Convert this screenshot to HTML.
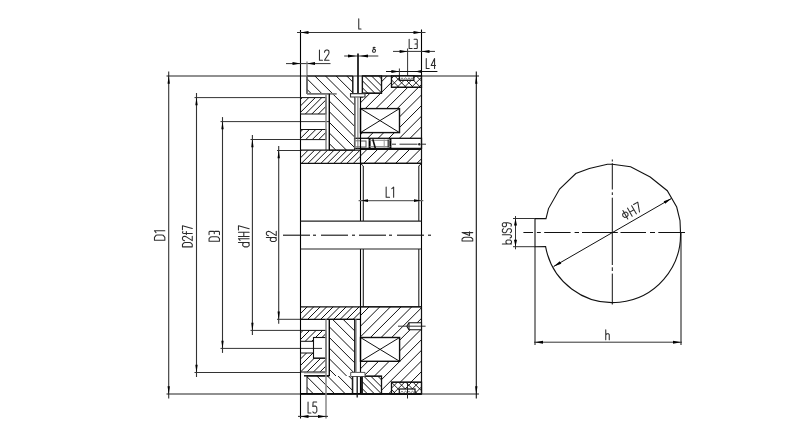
<!DOCTYPE html>
<html><head><meta charset="utf-8"><style>html,body{margin:0;padding:0;background:#fff;overflow:hidden;}svg{display:block;}text{font-family:"Liberation Sans",sans-serif;}</style></head>
<body><svg width="801" height="440" viewBox="0 0 801 440"><defs><clipPath id="c1"><polygon points="300.5,97.6 326,97.6 326,114 300.5,114"/></clipPath><clipPath id="c2"><polygon points="300.5,129.5 326,129.5 326,139.6 300.5,139.6"/></clipPath><clipPath id="c3"><polygon points="300.5,150.2 360.5,150.2 360.5,163.3 300.5,163.3"/></clipPath><clipPath id="c4"><polygon points="307,76 352.8,76 352.8,93.7 354.6,93.7 354.6,150.2 329.3,150.2 329.3,93.7 307,93.7"/></clipPath><clipPath id="c5"><polygon points="381.5,76 391.5,76 391.5,87.3 421.5,87.3 421.5,163.3 360.5,163.3 360.5,97.3 362.4,97.3 362.4,93.2 381.5,93.2"/></clipPath><clipPath id="c6"><polygon points="362.4,76 381.5,76 381.5,93.2 362.4,93.2"/></clipPath><clipPath id="c7"><polygon points="391.5,76 421.5,76 421.5,87.3 391.5,87.3"/></clipPath><clipPath id="c8"><polygon points="391.5,76 421.5,76 421.5,87.3 391.5,87.3"/></clipPath><clipPath id="c9"><polygon points="300.5,306.8 360.5,306.8 360.5,319.3 300.5,319.3"/></clipPath><clipPath id="c10"><polygon points="300.5,330.4 326,330.4 326,337.5 313.5,337.5 313.5,341.3 300.5,341.3"/></clipPath><clipPath id="c11"><polygon points="300.5,353 313.5,353 313.5,358.2 326,358.2 326,372 300.5,372"/></clipPath><clipPath id="c12"><polygon points="329.3,319.3 354.6,319.3 354.6,376 329.3,376"/></clipPath><clipPath id="c13"><polygon points="352.3,376 352.3,393.8 307,393.8 307,376"/></clipPath><clipPath id="c14"><polygon points="360.5,306.8 421.5,306.8 421.5,393.8 360.5,393.8"/></clipPath><clipPath id="c15"><polygon points="362,376.2 381.5,376.2 381.5,393.8 362,393.8"/></clipPath><clipPath id="c16"><polygon points="391.5,382.2 421.5,382.2 421.5,393.8 391.5,393.8"/></clipPath><clipPath id="c17"><polygon points="391.5,382.2 421.5,382.2 421.5,393.8 391.5,393.8"/></clipPath></defs><rect width="801" height="440" fill="#fff"/><line x1="168.7" y1="71.5" x2="168.7" y2="398.5" stroke="#333" stroke-width="1.1"/><polygon points="168.70,75.20 169.85,83.70 167.55,83.70" fill="#000"/><polygon points="168.70,394.80 167.55,386.30 169.85,386.30" fill="#000"/><line x1="196.5" y1="93.1" x2="196.5" y2="377.0" stroke="#333" stroke-width="1.1"/><polygon points="196.50,96.80 197.65,105.30 195.35,105.30" fill="#000"/><polygon points="196.50,373.30 195.35,364.80 197.65,364.80" fill="#000"/><line x1="222.5" y1="117.1" x2="222.5" y2="352.9" stroke="#333" stroke-width="1.1"/><polygon points="222.50,120.80 223.65,129.30 221.35,129.30" fill="#000"/><polygon points="222.50,349.20 221.35,340.70 223.65,340.70" fill="#000"/><line x1="252.4" y1="135.0" x2="252.4" y2="334.9" stroke="#333" stroke-width="1.1"/><polygon points="252.40,138.70 253.55,147.20 251.25,147.20" fill="#000"/><polygon points="252.40,331.20 251.25,322.70 253.55,322.70" fill="#000"/><line x1="278.7" y1="146.0" x2="278.7" y2="323.8" stroke="#333" stroke-width="1.1"/><polygon points="278.70,149.70 279.85,158.20 277.55,158.20" fill="#000"/><polygon points="278.70,320.10 277.55,311.60 279.85,311.60" fill="#000"/><line x1="166.5" y1="76" x2="479" y2="76" stroke="#222" stroke-width="1.1"/><line x1="166.5" y1="394" x2="479" y2="394" stroke="#222" stroke-width="1.2"/><line x1="300.5" y1="393.8" x2="421.5" y2="393.8" stroke="#000" stroke-width="1.8"/><line x1="194.5" y1="97.6" x2="300" y2="97.6" stroke="#333" stroke-width="1"/><line x1="194.5" y1="372.5" x2="300" y2="372.5" stroke="#333" stroke-width="1"/><line x1="220.5" y1="121.6" x2="329.3" y2="121.6" stroke="#333" stroke-width="1"/><line x1="220.5" y1="348.4" x2="322" y2="348.4" stroke="#333" stroke-width="1"/><line x1="250.5" y1="139.5" x2="300" y2="139.5" stroke="#333" stroke-width="1"/><line x1="250.5" y1="330.4" x2="300" y2="330.4" stroke="#333" stroke-width="1"/><line x1="277" y1="150.5" x2="300" y2="150.5" stroke="#333" stroke-width="1"/><line x1="277" y1="319.3" x2="300" y2="319.3" stroke="#333" stroke-width="1"/><path d="M154.45,240.25 L164.85,240.25 L164.85,237.32 L163.29,235.32 L161.73,234.97 L157.57,234.97 L156.01,235.32 L154.45,237.32 L154.45,240.25M156.01,232.63 L154.45,230.75 L164.85,230.75" fill="none" stroke="#2b2b2b" stroke-width="1.05" stroke-linecap="round" stroke-linejoin="round"/><path d="M182.45,246.85 L192.25,246.85 L192.25,244.46 L190.78,242.84 L189.31,242.55 L185.39,242.55 L183.92,242.84 L182.45,244.46 L182.45,246.85M184.61,240.64 L183.23,240.17 L182.45,238.92 L182.45,237.78 L183.23,236.63 L184.61,236.35 L185.98,236.63 L192.25,240.64 L192.25,236.35M182.94,231.57 L182.45,232.33 L182.94,233.29 L183.92,233.48 L192.25,233.48M186.37,234.44 L186.37,231.57M182.45,229.66 L182.45,225.65 L192.25,228.51" fill="none" stroke="#2b2b2b" stroke-width="1.05" stroke-linecap="round" stroke-linejoin="round"/><path d="M209.05,241.25 L219.45,241.25 L219.45,238.70 L217.89,236.96 L216.33,236.66 L212.17,236.66 L210.61,236.96 L209.05,238.70 L209.05,241.25M209.05,234.62 L209.05,231.86 L209.67,231.35 L213.63,231.35 L214.25,231.86 L214.87,231.35 L218.83,231.35 L219.45,231.86 L219.45,234.62M214.25,233.60 L214.25,231.86" fill="none" stroke="#2b2b2b" stroke-width="1.05" stroke-linecap="round" stroke-linejoin="round"/><path d="M238.45,242.44 L249.15,242.44M244.34,242.44 L242.73,243.70 L242.73,245.59 L244.34,246.85 L247.54,246.85 L249.15,245.59 L249.15,243.70 L247.54,242.44M240.06,240.34 L238.45,238.66 L249.15,238.66M238.45,236.56 L249.15,236.56M238.45,232.16 L249.15,232.16M243.80,236.56 L243.80,232.16M238.45,230.06 L238.45,225.65 L249.15,228.80" fill="none" stroke="#2b2b2b" stroke-width="1.05" stroke-linecap="round" stroke-linejoin="round"/><path d="M266.35,237.55 L276.25,237.55M271.80,237.55 L270.31,238.69 L270.31,240.41 L271.80,241.55 L274.76,241.55 L276.25,240.41 L276.25,238.69 L274.76,237.55M268.53,235.64 L267.14,235.16 L266.35,233.92 L266.35,232.78 L267.14,231.64 L268.53,231.35 L269.91,231.64 L276.25,235.64 L276.25,231.35" fill="none" stroke="#2b2b2b" stroke-width="1.05" stroke-linecap="round" stroke-linejoin="round"/><line x1="300.5" y1="30" x2="300.5" y2="418.5" stroke="#000" stroke-width="1.1"/><line x1="421.5" y1="29.5" x2="421.5" y2="394" stroke="#000" stroke-width="1.1"/><line x1="297" y1="32.5" x2="425.5" y2="32.5" stroke="#333" stroke-width="1.2"/><polygon points="300.50,32.50 308.50,31.00 308.50,34.00" fill="#000"/><polygon points="421.50,32.50 413.50,34.00 413.50,31.00" fill="#000"/><path d="M358.75,18.75 L358.75,29.05 L361.05,29.05" fill="none" stroke="#2b2b2b" stroke-width="1.05" stroke-linecap="round" stroke-linejoin="round"/><line x1="286" y1="63.6" x2="330.5" y2="63.6" stroke="#333" stroke-width="1"/><polygon points="300.50,63.60 292.50,65.10 292.50,62.10" fill="#000"/><polygon points="307.00,63.60 315.00,62.10 315.00,65.10" fill="#000"/><line x1="307" y1="61.5" x2="307" y2="94" stroke="#777" stroke-width="1.2"/><path d="M319.45,49.95 L319.45,60.25 L322.48,60.25M324.50,52.22 L325.01,50.77 L326.32,49.95 L327.53,49.95 L328.75,50.77 L329.05,52.22 L328.75,53.66 L324.50,60.25 L329.05,60.25" fill="none" stroke="#2b2b2b" stroke-width="1.05" stroke-linecap="round" stroke-linejoin="round"/><line x1="344.2" y1="56" x2="378.3" y2="56" stroke="#333" stroke-width="1"/><polygon points="356.00,56.00 348.00,57.50 348.00,54.50" fill="#000"/><polygon points="360.00,56.00 368.00,54.50 368.00,57.50" fill="#000"/><line x1="358" y1="53.5" x2="358" y2="94" stroke="#111" stroke-width="1.7"/><path d="M375.07,47.51 L373.97,47.25 L373.14,47.66 L373.28,48.37 L375.07,49.39 L375.55,50.62 L375.07,51.94 L373.97,52.35 L372.93,51.94 L372.45,50.82 L373.00,49.80 L374.65,49.29" fill="none" stroke="#2b2b2b" stroke-width="1.05" stroke-linecap="round" stroke-linejoin="round"/><line x1="393" y1="51.4" x2="435" y2="51.4" stroke="#333" stroke-width="1"/><polygon points="407.60,51.40 399.60,52.90 399.60,49.90" fill="#000"/><polygon points="421.50,51.40 429.50,49.90 429.50,52.90" fill="#000"/><line x1="407.6" y1="48.5" x2="407.6" y2="76" stroke="#333" stroke-width="1"/><path d="M409.15,39.25 L409.15,48.55 L412.11,48.55M414.09,39.25 L416.76,39.25 L417.25,39.81 L417.25,43.34 L416.76,43.90 L417.25,44.46 L417.25,47.99 L416.76,48.55 L414.09,48.55M415.08,43.90 L416.76,43.90" fill="none" stroke="#2b2b2b" stroke-width="1.05" stroke-linecap="round" stroke-linejoin="round"/><line x1="386" y1="71.5" x2="437.4" y2="71.5" stroke="#111" stroke-width="1.2"/><polygon points="399.40,71.50 391.40,73.00 391.40,70.00" fill="#000"/><polygon points="415.00,71.50 421.50,70.10 421.50,72.90" fill="#000"/><line x1="399.4" y1="68.5" x2="399.4" y2="80" stroke="#333" stroke-width="1"/><path d="M426.25,58.55 L426.25,68.45 L429.19,68.45M434.57,68.45 L434.57,58.55 L431.14,65.48 L435.55,65.48" fill="none" stroke="#2b2b2b" stroke-width="1.05" stroke-linecap="round" stroke-linejoin="round"/><g clip-path="url(#c1)" stroke="#111" stroke-width="1.0"><line x1="296.80" y1="96.6" x2="278.40" y2="115"/><line x1="303.29" y1="96.6" x2="284.89" y2="115"/><line x1="309.78" y1="96.6" x2="291.38" y2="115"/><line x1="316.27" y1="96.6" x2="297.87" y2="115"/><line x1="322.76" y1="96.6" x2="304.36" y2="115"/><line x1="329.25" y1="96.6" x2="310.85" y2="115"/><line x1="335.74" y1="96.6" x2="317.34" y2="115"/><line x1="342.23" y1="96.6" x2="323.83" y2="115"/></g><g clip-path="url(#c2)" stroke="#111" stroke-width="1.0"><line x1="297.35" y1="128.5" x2="285.25" y2="140.6"/><line x1="303.84" y1="128.5" x2="291.74" y2="140.6"/><line x1="310.33" y1="128.5" x2="298.23" y2="140.6"/><line x1="316.82" y1="128.5" x2="304.72" y2="140.6"/><line x1="323.31" y1="128.5" x2="311.21" y2="140.6"/><line x1="329.80" y1="128.5" x2="317.70" y2="140.6"/><line x1="336.29" y1="128.5" x2="324.19" y2="140.6"/></g><g clip-path="url(#c3)" stroke="#111" stroke-width="1.0"><line x1="296.12" y1="149.2" x2="281.02" y2="164.3"/><line x1="302.61" y1="149.2" x2="287.51" y2="164.3"/><line x1="309.10" y1="149.2" x2="294.00" y2="164.3"/><line x1="315.59" y1="149.2" x2="300.49" y2="164.3"/><line x1="322.08" y1="149.2" x2="306.98" y2="164.3"/><line x1="328.57" y1="149.2" x2="313.47" y2="164.3"/><line x1="335.06" y1="149.2" x2="319.96" y2="164.3"/><line x1="341.55" y1="149.2" x2="326.45" y2="164.3"/><line x1="348.04" y1="149.2" x2="332.94" y2="164.3"/><line x1="354.53" y1="149.2" x2="339.43" y2="164.3"/><line x1="361.02" y1="149.2" x2="345.92" y2="164.3"/><line x1="367.51" y1="149.2" x2="352.41" y2="164.3"/><line x1="374.00" y1="149.2" x2="358.90" y2="164.3"/></g><rect x="300.5" y="97.6" width="25.5" height="16.4" fill="none" stroke="#111" stroke-width="1"/><rect x="300.5" y="129.5" width="25.5" height="10.1" fill="none" stroke="#111" stroke-width="1"/><g clip-path="url(#c4)" stroke="#111" stroke-width="1.0"><line x1="228.76" y1="75" x2="304.96" y2="151.2"/><line x1="239.40" y1="75" x2="315.60" y2="151.2"/><line x1="250.04" y1="75" x2="326.24" y2="151.2"/><line x1="260.68" y1="75" x2="336.88" y2="151.2"/><line x1="271.32" y1="75" x2="347.52" y2="151.2"/><line x1="281.96" y1="75" x2="358.16" y2="151.2"/><line x1="292.60" y1="75" x2="368.80" y2="151.2"/><line x1="303.24" y1="75" x2="379.44" y2="151.2"/><line x1="313.88" y1="75" x2="390.08" y2="151.2"/><line x1="324.52" y1="75" x2="400.72" y2="151.2"/><line x1="335.16" y1="75" x2="411.36" y2="151.2"/><line x1="345.80" y1="75" x2="422.00" y2="151.2"/></g><polygon points="307,76 352.8,76 352.8,93.7 354.6,93.7 354.6,150.2 329.3,150.2 329.3,93.7 307,93.7" fill="none" stroke="#111" stroke-width="1"/><line x1="307" y1="93.9" x2="336.7" y2="93.9" stroke="#777" stroke-width="1.6"/><line x1="307" y1="76" x2="307" y2="93.7" stroke="#777" stroke-width="1.2"/><line x1="326" y1="93.7" x2="326" y2="150.2" stroke="#888" stroke-width="1.5"/><line x1="329.3" y1="93.7" x2="329.3" y2="150.2" stroke="#000" stroke-width="1.1"/><g clip-path="url(#c5)" stroke="#111" stroke-width="1.0"><line x1="356.30" y1="75" x2="267.00" y2="164.3"/><line x1="366.94" y1="75" x2="277.64" y2="164.3"/><line x1="377.58" y1="75" x2="288.28" y2="164.3"/><line x1="388.22" y1="75" x2="298.92" y2="164.3"/><line x1="398.86" y1="75" x2="309.56" y2="164.3"/><line x1="409.50" y1="75" x2="320.20" y2="164.3"/><line x1="420.14" y1="75" x2="330.84" y2="164.3"/><line x1="430.78" y1="75" x2="341.48" y2="164.3"/><line x1="441.42" y1="75" x2="352.12" y2="164.3"/><line x1="452.06" y1="75" x2="362.76" y2="164.3"/><line x1="462.70" y1="75" x2="373.40" y2="164.3"/><line x1="473.34" y1="75" x2="384.04" y2="164.3"/><line x1="483.98" y1="75" x2="394.68" y2="164.3"/><line x1="494.62" y1="75" x2="405.32" y2="164.3"/><line x1="505.26" y1="75" x2="415.96" y2="164.3"/></g><rect x="360.5" y="108.6" width="39.0" height="24.0" fill="white" stroke="#111" stroke-width="1.4"/><line x1="360.5" y1="108.6" x2="399.5" y2="132.6" stroke="#111" stroke-width="1"/><line x1="360.5" y1="132.6" x2="399.5" y2="108.6" stroke="#111" stroke-width="1"/><rect x="354.6" y="138.3" width="66.9" height="10.1" fill="white" stroke="#111" stroke-width="1.3"/><line x1="369.6" y1="138.3" x2="369.6" y2="148.4" stroke="#000" stroke-width="2"/><line x1="390.4" y1="138.3" x2="390.4" y2="148.4" stroke="#000" stroke-width="2"/><line x1="369.6" y1="140.3" x2="390.4" y2="140.3" stroke="#888" stroke-width="1"/><line x1="369.6" y1="146.6" x2="390.4" y2="146.6" stroke="#888" stroke-width="1"/><line x1="372.8" y1="139.3" x2="375.3" y2="148.2" stroke="#111" stroke-width="1.6"/><line x1="384.2" y1="139.5" x2="384.2" y2="147.5" stroke="#999" stroke-width="1"/><line x1="388.2" y1="139.5" x2="388.2" y2="147.5" stroke="#333" stroke-width="1.3"/><rect x="360.5" y="141" width="5.5" height="6" fill="none" stroke="#555" stroke-width="1"/><line x1="354.6" y1="140.8" x2="360.5" y2="140.8" stroke="#777" stroke-width="1"/><line x1="354.6" y1="146.8" x2="360.5" y2="146.8" stroke="#777" stroke-width="1"/><line x1="355" y1="138.3" x2="355" y2="148.4" stroke="#888" stroke-width="1.3"/><line x1="357.9" y1="138.3" x2="357.9" y2="148.4" stroke="#777" stroke-width="1"/><line x1="392" y1="144.2" x2="396" y2="144.2" stroke="#333" stroke-width="1"/><line x1="399.5" y1="144.2" x2="417.5" y2="144.2" stroke="#333" stroke-width="1"/><line x1="421.5" y1="144.2" x2="426" y2="144.2" stroke="#333" stroke-width="1"/><circle cx="419.3" cy="144.2" r="1.2" fill="#222"/><line x1="300.5" y1="150.2" x2="360.5" y2="150.2" stroke="#111" stroke-width="1.3"/><line x1="360.5" y1="149.4" x2="421.5" y2="149.4" stroke="#111" stroke-width="1.1"/><line x1="300.5" y1="163.3" x2="421.5" y2="163.3" stroke="#111" stroke-width="1.3"/><polygon points="381.5,76 391.5,76 391.5,87.3 421.5,87.3 421.5,163.3 360.5,163.3 360.5,97.3 362.4,97.3 362.4,93.2 381.5,93.2" fill="none" stroke="#111" stroke-width="1.1"/><rect x="362.4" y="76" width="19.1" height="17.2" fill="white" stroke="#111" stroke-width="1"/><g clip-path="url(#c6)" stroke="#111" stroke-width="1.0"><line x1="342.60" y1="75" x2="361.80" y2="94.2"/><line x1="349.60" y1="75" x2="368.80" y2="94.2"/><line x1="356.60" y1="75" x2="375.80" y2="94.2"/><line x1="363.60" y1="75" x2="382.80" y2="94.2"/><line x1="370.60" y1="75" x2="389.80" y2="94.2"/><line x1="377.60" y1="75" x2="396.80" y2="94.2"/></g><rect x="362.4" y="76" width="19.1" height="17.2" fill="none" stroke="#111" stroke-width="1.3"/><rect x="391.5" y="76" width="30.0" height="11.3" fill="white" stroke="#111" stroke-width="1"/><g clip-path="url(#c7)" stroke="#111" stroke-width="0.9"><line x1="387.80" y1="75" x2="374.50" y2="88.3"/><line x1="395.00" y1="75" x2="381.70" y2="88.3"/><line x1="402.20" y1="75" x2="388.90" y2="88.3"/><line x1="409.40" y1="75" x2="396.10" y2="88.3"/><line x1="416.60" y1="75" x2="403.30" y2="88.3"/><line x1="423.80" y1="75" x2="410.50" y2="88.3"/><line x1="431.00" y1="75" x2="417.70" y2="88.3"/></g><g clip-path="url(#c8)" stroke="#111" stroke-width="0.9"><line x1="372.20" y1="75" x2="385.50" y2="88.3"/><line x1="379.40" y1="75" x2="392.70" y2="88.3"/><line x1="386.60" y1="75" x2="399.90" y2="88.3"/><line x1="393.80" y1="75" x2="407.10" y2="88.3"/><line x1="401.00" y1="75" x2="414.30" y2="88.3"/><line x1="408.20" y1="75" x2="421.50" y2="88.3"/><line x1="415.40" y1="75" x2="428.70" y2="88.3"/></g><rect x="391.5" y="76" width="30.0" height="11.3" fill="none" stroke="#111" stroke-width="1.3"/><rect x="399.4" y="76" width="14.4" height="4.3" fill="white" stroke="#111" stroke-width="1.3"/><path d="M400.5,79.2 Q402,76.5 403.5,79.2" fill="none" stroke="#666" stroke-width="0.9"/><path d="M404.0,79.2 Q405.5,76.5 407.0,79.2" fill="none" stroke="#666" stroke-width="0.9"/><path d="M407.5,79.2 Q409,76.5 410.5,79.2" fill="none" stroke="#666" stroke-width="0.9"/><path d="M410.5,79.2 Q412,76.5 413.5,79.2" fill="none" stroke="#666" stroke-width="0.9"/><line x1="352.8" y1="76" x2="352.8" y2="93.7" stroke="#111" stroke-width="1"/><line x1="362.5" y1="76" x2="362.5" y2="93.7" stroke="#111" stroke-width="1"/><polygon points="350.5,93.6 365,93.6 365,97 350.5,97" fill="white" stroke="#333" stroke-width="1.1"/><line x1="355" y1="97.4" x2="355" y2="138" stroke="#777" stroke-width="1.5"/><line x1="357.9" y1="97.4" x2="357.9" y2="138" stroke="#666" stroke-width="1"/><line x1="360.5" y1="97.3" x2="360.5" y2="163.3" stroke="#000" stroke-width="1.1"/><line x1="360.5" y1="163.3" x2="360.5" y2="221" stroke="#000" stroke-width="1.1"/><line x1="363.3" y1="166" x2="363.3" y2="221" stroke="#222" stroke-width="1.1"/><polyline points="360.5,163.3 363.3,166" fill="none" stroke="#111" stroke-width="1"/><line x1="418.8" y1="166" x2="418.8" y2="221" stroke="#222" stroke-width="1.1"/><polyline points="421.5,163.3 418.8,166" fill="none" stroke="#111" stroke-width="1"/><line x1="360.5" y1="249" x2="360.5" y2="306.8" stroke="#000" stroke-width="1.1"/><line x1="363.3" y1="249" x2="363.3" y2="306.8" stroke="#222" stroke-width="1.1"/><line x1="418.8" y1="249" x2="418.8" y2="306.8" stroke="#222" stroke-width="1.1"/><line x1="300.5" y1="221.2" x2="421.5" y2="221.2" stroke="#222" stroke-width="1.2"/><line x1="300.5" y1="249" x2="421.5" y2="249" stroke="#222" stroke-width="1.2"/><line x1="283" y1="235.2" x2="310" y2="235.2" stroke="#111" stroke-width="1.1"/><line x1="313" y1="235.2" x2="316" y2="235.2" stroke="#111" stroke-width="1.1"/><line x1="321" y1="235.2" x2="348" y2="235.2" stroke="#111" stroke-width="1.1"/><line x1="352" y1="235.2" x2="355" y2="235.2" stroke="#111" stroke-width="1.1"/><line x1="359" y1="235.2" x2="386" y2="235.2" stroke="#111" stroke-width="1.1"/><line x1="389" y1="235.2" x2="392" y2="235.2" stroke="#111" stroke-width="1.1"/><line x1="397" y1="235.2" x2="424" y2="235.2" stroke="#111" stroke-width="1.1"/><line x1="428" y1="235.2" x2="431" y2="235.2" stroke="#111" stroke-width="1.1"/><line x1="358.6" y1="200.6" x2="423.3" y2="200.6" stroke="#666" stroke-width="1.2"/><polygon points="361.00,200.60 368.00,199.20 368.00,202.00" fill="#000"/><polygon points="421.00,200.60 414.00,202.00 414.00,199.20" fill="#000"/><path d="M386.15,187.05 L386.15,197.25 L389.56,197.25M391.83,188.58 L393.65,187.05 L393.65,197.25" fill="none" stroke="#2b2b2b" stroke-width="1.05" stroke-linecap="round" stroke-linejoin="round"/><g clip-path="url(#c9)" stroke="#111" stroke-width="1.0"><line x1="295.28" y1="305.8" x2="280.78" y2="320.3"/><line x1="301.77" y1="305.8" x2="287.27" y2="320.3"/><line x1="308.26" y1="305.8" x2="293.76" y2="320.3"/><line x1="314.75" y1="305.8" x2="300.25" y2="320.3"/><line x1="321.24" y1="305.8" x2="306.74" y2="320.3"/><line x1="327.73" y1="305.8" x2="313.23" y2="320.3"/><line x1="334.22" y1="305.8" x2="319.72" y2="320.3"/><line x1="340.71" y1="305.8" x2="326.21" y2="320.3"/><line x1="347.20" y1="305.8" x2="332.70" y2="320.3"/><line x1="353.69" y1="305.8" x2="339.19" y2="320.3"/><line x1="360.18" y1="305.8" x2="345.68" y2="320.3"/><line x1="366.67" y1="305.8" x2="352.17" y2="320.3"/><line x1="373.16" y1="305.8" x2="358.66" y2="320.3"/></g><line x1="300.5" y1="306.8" x2="421.5" y2="306.8" stroke="#111" stroke-width="1.3"/><line x1="300.5" y1="319.3" x2="360.5" y2="319.3" stroke="#111" stroke-width="1.3"/><g clip-path="url(#c10)" stroke="#111" stroke-width="1.0"><line x1="297.64" y1="329.4" x2="284.74" y2="342.3"/><line x1="304.13" y1="329.4" x2="291.23" y2="342.3"/><line x1="310.62" y1="329.4" x2="297.72" y2="342.3"/><line x1="317.11" y1="329.4" x2="304.21" y2="342.3"/><line x1="323.60" y1="329.4" x2="310.70" y2="342.3"/><line x1="330.09" y1="329.4" x2="317.19" y2="342.3"/><line x1="336.58" y1="329.4" x2="323.68" y2="342.3"/></g><polygon points="300.5,330.4 326,330.4 326,337.5 313.5,337.5 313.5,341.3 300.5,341.3" fill="none" stroke="#111" stroke-width="1"/><g clip-path="url(#c11)" stroke="#111" stroke-width="1.0"><line x1="301.00" y1="352" x2="280.00" y2="373"/><line x1="307.49" y1="352" x2="286.49" y2="373"/><line x1="313.98" y1="352" x2="292.98" y2="373"/><line x1="320.47" y1="352" x2="299.47" y2="373"/><line x1="326.96" y1="352" x2="305.96" y2="373"/><line x1="333.45" y1="352" x2="312.45" y2="373"/><line x1="339.94" y1="352" x2="318.94" y2="373"/></g><polygon points="300.5,353 313.5,353 313.5,358.2 326,358.2 326,372 300.5,372" fill="none" stroke="#111" stroke-width="1"/><rect x="313.5" y="337.5" width="12.5" height="20.7" fill="none" stroke="#111" stroke-width="1.1"/><g clip-path="url(#c12)" stroke="#111" stroke-width="1.0"><line x1="267.60" y1="318.3" x2="326.30" y2="377"/><line x1="278.24" y1="318.3" x2="336.94" y2="377"/><line x1="288.88" y1="318.3" x2="347.58" y2="377"/><line x1="299.52" y1="318.3" x2="358.22" y2="377"/><line x1="310.16" y1="318.3" x2="368.86" y2="377"/><line x1="320.80" y1="318.3" x2="379.50" y2="377"/><line x1="331.44" y1="318.3" x2="390.14" y2="377"/><line x1="342.08" y1="318.3" x2="400.78" y2="377"/><line x1="352.72" y1="318.3" x2="411.42" y2="377"/></g><g clip-path="url(#c13)" stroke="#111" stroke-width="1.0"><line x1="283.94" y1="375" x2="303.74" y2="394.8"/><line x1="294.58" y1="375" x2="314.38" y2="394.8"/><line x1="305.22" y1="375" x2="325.02" y2="394.8"/><line x1="315.86" y1="375" x2="335.66" y2="394.8"/><line x1="326.50" y1="375" x2="346.30" y2="394.8"/><line x1="337.14" y1="375" x2="356.94" y2="394.8"/><line x1="347.78" y1="375" x2="367.58" y2="394.8"/></g><polygon points="329.3,319.3 354.6,319.3 354.6,376 352.3,376 352.3,393.8 307,393.8 307,376 329.3,376" fill="none" stroke="#111" stroke-width="1"/><line x1="304" y1="372.5" x2="325.4" y2="372.5" stroke="#777" stroke-width="1.6"/><line x1="304" y1="375.8" x2="329.3" y2="375.8" stroke="#111" stroke-width="1.5"/><line x1="326" y1="319.3" x2="326" y2="418.5" stroke="#888" stroke-width="1.5"/><line x1="329.3" y1="319.3" x2="329.3" y2="376" stroke="#000" stroke-width="1.1"/><g clip-path="url(#c14)" stroke="#111" stroke-width="1.0"><line x1="359.58" y1="305.8" x2="270.58" y2="394.8"/><line x1="370.22" y1="305.8" x2="281.22" y2="394.8"/><line x1="380.86" y1="305.8" x2="291.86" y2="394.8"/><line x1="391.50" y1="305.8" x2="302.50" y2="394.8"/><line x1="402.14" y1="305.8" x2="313.14" y2="394.8"/><line x1="412.78" y1="305.8" x2="323.78" y2="394.8"/><line x1="423.42" y1="305.8" x2="334.42" y2="394.8"/><line x1="434.06" y1="305.8" x2="345.06" y2="394.8"/><line x1="444.70" y1="305.8" x2="355.70" y2="394.8"/><line x1="455.34" y1="305.8" x2="366.34" y2="394.8"/><line x1="465.98" y1="305.8" x2="376.98" y2="394.8"/><line x1="476.62" y1="305.8" x2="387.62" y2="394.8"/><line x1="487.26" y1="305.8" x2="398.26" y2="394.8"/><line x1="497.90" y1="305.8" x2="408.90" y2="394.8"/><line x1="508.54" y1="305.8" x2="419.54" y2="394.8"/></g><rect x="360.5" y="337.5" width="39.1" height="23.8" fill="white" stroke="#111" stroke-width="1.4"/><line x1="360.5" y1="337.5" x2="399.6" y2="361.3" stroke="#111" stroke-width="1"/><line x1="360.5" y1="361.3" x2="399.6" y2="337.5" stroke="#111" stroke-width="1"/><polygon points="409,322.7 421.5,322.7 421.5,329.8 409,329.8 406.8,326.2" fill="white" stroke="#111" stroke-width="1.1"/><line x1="409" y1="322.7" x2="409" y2="329.8" stroke="#111" stroke-width="1"/><line x1="398" y1="326.2" x2="425.6" y2="326.2" stroke="#333" stroke-width="1"/><rect x="362" y="376.2" width="19.5" height="17.6" fill="white" stroke="#111" stroke-width="1"/><g clip-path="url(#c15)" stroke="#111" stroke-width="1.0"><line x1="341.80" y1="375.2" x2="361.40" y2="394.8"/><line x1="348.80" y1="375.2" x2="368.40" y2="394.8"/><line x1="355.80" y1="375.2" x2="375.40" y2="394.8"/><line x1="362.80" y1="375.2" x2="382.40" y2="394.8"/><line x1="369.80" y1="375.2" x2="389.40" y2="394.8"/><line x1="376.80" y1="375.2" x2="396.40" y2="394.8"/></g><rect x="362" y="376.2" width="19.5" height="17.6" fill="none" stroke="#111" stroke-width="1.3"/><rect x="391.5" y="382.2" width="30.0" height="11.6" fill="white" stroke="#111" stroke-width="1"/><g clip-path="url(#c16)" stroke="#111" stroke-width="0.9"><line x1="391.20" y1="381.2" x2="377.60" y2="394.8"/><line x1="398.40" y1="381.2" x2="384.80" y2="394.8"/><line x1="405.60" y1="381.2" x2="392.00" y2="394.8"/><line x1="412.80" y1="381.2" x2="399.20" y2="394.8"/><line x1="420.00" y1="381.2" x2="406.40" y2="394.8"/><line x1="427.20" y1="381.2" x2="413.60" y2="394.8"/></g><g clip-path="url(#c17)" stroke="#111" stroke-width="0.9"><line x1="376.00" y1="381.2" x2="389.60" y2="394.8"/><line x1="383.20" y1="381.2" x2="396.80" y2="394.8"/><line x1="390.40" y1="381.2" x2="404.00" y2="394.8"/><line x1="397.60" y1="381.2" x2="411.20" y2="394.8"/><line x1="404.80" y1="381.2" x2="418.40" y2="394.8"/><line x1="412.00" y1="381.2" x2="425.60" y2="394.8"/><line x1="419.20" y1="381.2" x2="432.80" y2="394.8"/></g><rect x="391.5" y="382.2" width="30.0" height="11.6" fill="none" stroke="#111" stroke-width="1.3"/><rect x="399.3" y="389" width="15.7" height="4.8" fill="white" stroke="#111" stroke-width="1.2"/><path d="M400.5,392.6 Q402,389.9 403.5,392.6" fill="none" stroke="#666" stroke-width="0.9"/><path d="M404.0,392.6 Q405.5,389.9 407.0,392.6" fill="none" stroke="#666" stroke-width="0.9"/><path d="M407.5,392.6 Q409,389.9 410.5,392.6" fill="none" stroke="#666" stroke-width="0.9"/><path d="M411.0,392.6 Q412.5,389.9 414.0,392.6" fill="none" stroke="#666" stroke-width="0.9"/><polygon points="360.5,306.8 421.5,306.8 421.5,393.8 360.5,393.8" fill="none" stroke="#111" stroke-width="1.1"/><line x1="360.5" y1="306.8" x2="360.5" y2="393.8" stroke="#000" stroke-width="1.1"/><polygon points="350.7,372.4 365,372.4 365,376.5 350.7,376.5" fill="white" stroke="#555" stroke-width="1"/><line x1="355.8" y1="319.3" x2="355.8" y2="372.4" stroke="#777" stroke-width="1.6"/><line x1="352.8" y1="376.5" x2="352.8" y2="393.8" stroke="#111" stroke-width="1"/><line x1="357.2" y1="376.5" x2="357.2" y2="397.5" stroke="#111" stroke-width="1.3"/><line x1="362" y1="376.5" x2="362" y2="393.8" stroke="#111" stroke-width="1"/><line x1="407.5" y1="382.2" x2="407.5" y2="398.5" stroke="#222" stroke-width="1"/><line x1="298" y1="416.4" x2="328" y2="416.4" stroke="#333" stroke-width="1.1"/><polygon points="300.50,416.40 308.50,414.90 308.50,417.90" fill="#000"/><polygon points="326.00,416.40 318.00,417.90 318.00,414.90" fill="#000"/><path d="M308.05,401.95 L308.05,412.95 L310.92,412.95M316.66,401.95 L313.12,401.95 L312.83,406.57 L313.98,406.13 L315.51,406.13 L316.66,407.23 L316.85,409.10 L316.85,411.30 L315.70,412.95 L313.98,412.95 L312.83,411.85" fill="none" stroke="#2b2b2b" stroke-width="1.05" stroke-linecap="round" stroke-linejoin="round"/><line x1="476.3" y1="71.5" x2="476.3" y2="398.5" stroke="#111" stroke-width="1.1"/><polygon points="476.30,75.20 477.45,83.70 475.15,83.70" fill="#000"/><polygon points="476.30,394.80 475.15,386.30 477.45,386.30" fill="#000"/><path d="M462.05,241.05 L472.75,241.05 L472.75,238.94 L471.14,237.50 L469.54,237.25 L465.26,237.25 L463.66,237.50 L462.05,238.94 L462.05,241.05M472.75,232.60 L462.05,232.60 L469.54,235.55 L469.54,231.75" fill="none" stroke="#2b2b2b" stroke-width="1.05" stroke-linecap="round" stroke-linejoin="round"/><path d="M546,218.6 L548.5,208.6 L559.6,189 L575.8,173.6 L589.3,168.5 L607.4,164.3 L612.3,164.2 L630.6,166.8 L650.2,177 L667.3,190.7 L676.7,207 L680,220.6 L680.5,232.5 A68,68 0 0 1 545.6,246.6 L535,246.7 L535,218.6 Z" fill="none" stroke="#111" stroke-width="1.1"/><line x1="523.4" y1="232.5" x2="533" y2="232.5" stroke="#111" stroke-width="1"/><line x1="536.9" y1="232.5" x2="540.8" y2="232.5" stroke="#111" stroke-width="1"/><line x1="544.2" y1="232.5" x2="570.6" y2="232.5" stroke="#111" stroke-width="1"/><line x1="574.6" y1="232.5" x2="579" y2="232.5" stroke="#111" stroke-width="1"/><line x1="582" y1="232.5" x2="617.8" y2="232.5" stroke="#111" stroke-width="1"/><line x1="620.5" y1="232.5" x2="646" y2="232.5" stroke="#111" stroke-width="1"/><line x1="650" y1="232.5" x2="655" y2="232.5" stroke="#111" stroke-width="1"/><line x1="658.3" y1="232.5" x2="685" y2="232.5" stroke="#111" stroke-width="1"/><line x1="612.3" y1="159.5" x2="612.3" y2="161.5" stroke="#111" stroke-width="1"/><line x1="612.3" y1="163.2" x2="612.3" y2="189.5" stroke="#111" stroke-width="1"/><line x1="612.3" y1="192.3" x2="612.3" y2="195" stroke="#111" stroke-width="1"/><line x1="612.3" y1="197.7" x2="612.3" y2="265" stroke="#111" stroke-width="1"/><line x1="612.3" y1="267.3" x2="612.3" y2="271" stroke="#111" stroke-width="1"/><line x1="612.3" y1="273.6" x2="612.3" y2="304.5" stroke="#111" stroke-width="1"/><line x1="671.39" y1="198.5" x2="553.61" y2="266.5" stroke="#111" stroke-width="1"/><polygon points="671.39,198.50 665.21,203.80 663.71,201.20" fill="#000"/><polygon points="553.61,266.50 559.79,261.20 561.29,263.80" fill="#000"/><path d="M622.92,210.51 L627.80,218.98M624.04,212.47 L626.20,212.09 L627.84,213.32 L628.08,215.34 L626.68,217.02 L624.52,217.40 L622.88,216.17 L622.64,214.15 L624.04,212.47M627.47,208.10 L632.17,216.24M631.63,205.70 L636.33,213.84M629.82,212.17 L633.98,209.77M633.61,204.56 L637.77,202.15 L639.50,212.01" fill="none" stroke="#2b2b2b" stroke-width="1.05" stroke-linecap="round" stroke-linejoin="round"/><line x1="513" y1="218.5" x2="535" y2="218.5" stroke="#333" stroke-width="1"/><line x1="513" y1="246.7" x2="535" y2="246.7" stroke="#333" stroke-width="1"/><line x1="515.5" y1="216" x2="515.5" y2="249.3" stroke="#333" stroke-width="1"/><polygon points="515.50,218.50 517.00,225.50 514.00,225.50" fill="#000"/><polygon points="515.50,246.70 514.00,239.70 517.00,239.70" fill="#000"/><path d="M502.35,243.95 L511.45,243.95M507.36,243.95 L505.99,242.80 L505.99,241.07 L507.36,239.92 L510.08,239.92 L511.45,241.07 L511.45,242.80 L510.08,243.95M502.35,234.65 L509.81,234.65 L511.45,235.60 L511.45,237.04 L510.08,238.00M503.44,228.70 L502.35,229.85 L502.35,231.58 L503.44,232.73 L505.54,232.73 L506.44,231.77 L507.36,229.66 L508.26,228.70 L510.36,228.70 L511.45,229.85 L511.45,231.58 L510.36,232.73M505.54,222.75 L506.44,223.90 L506.44,225.63 L505.35,226.78 L503.44,226.78 L502.35,225.63 L502.35,223.90 L503.44,222.75 L507.81,222.75 L510.54,223.42 L511.45,224.67 L511.00,226.30" fill="none" stroke="#2b2b2b" stroke-width="1.05" stroke-linecap="round" stroke-linejoin="round"/><line x1="535" y1="246.7" x2="535" y2="345" stroke="#111" stroke-width="1"/><line x1="681" y1="232.5" x2="681" y2="345" stroke="#111" stroke-width="1"/><line x1="534" y1="342.2" x2="682" y2="342.2" stroke="#333" stroke-width="1"/><polygon points="535.00,342.20 543.00,340.70 543.00,343.70" fill="#000"/><polygon points="681.00,342.20 673.00,343.70 673.00,340.70" fill="#000"/><path d="M605.75,329.75 L605.75,339.65M605.75,335.19 L606.80,333.71 L608.38,333.71 L609.25,334.70 L609.25,339.65" fill="none" stroke="#2b2b2b" stroke-width="1.05" stroke-linecap="round" stroke-linejoin="round"/></svg></body></html>
